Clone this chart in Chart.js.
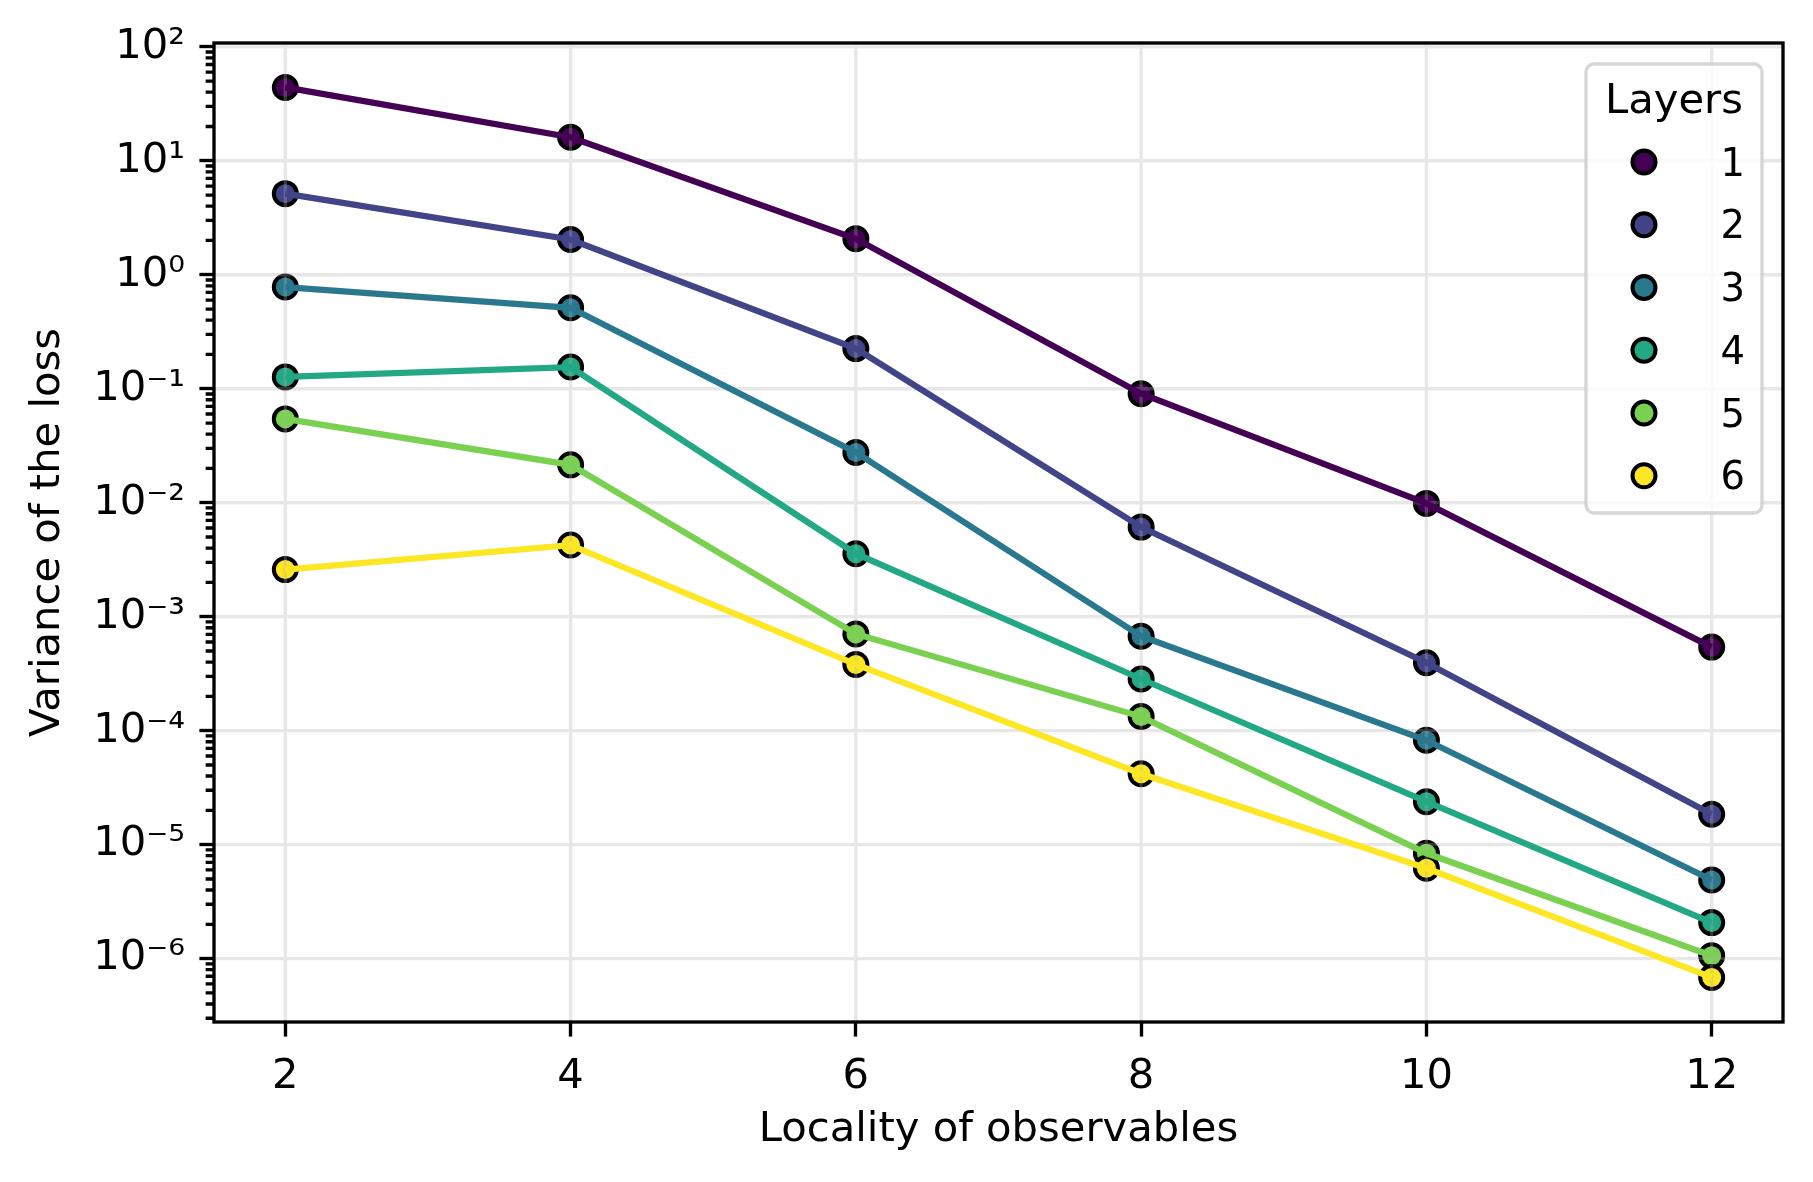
<!DOCTYPE html>
<html>
<head>
<meta charset="utf-8">
<script src="https://cdn.jsdelivr.net/npm/chart.js@4.4.1/dist/chart.umd.min.js"></script>
<style>
  html, body { margin: 0; padding: 0; background: #fff; }
  #wrap { width: 1813px; height: 1182px; position: relative; }
</style>
</head>
<body>
<div id="wrap"><canvas id="chart"></canvas></div>
<script>
// values (log y axis)
const locality = [2, 4, 6, 8, 10, 12];
const layerNames = ['1', '2', '3', '4', '5', '6'];
const layer1 = [44, 16.1, 2.07, 0.0904, 0.00986, 5.41e-4];
const layer2 = [5.15, 2.04, 0.225, 0.00611, 3.95e-4, 1.85e-5];
const layer3 = [0.78, 0.513, 0.0276, 6.73e-4, 8.24e-5, 4.9e-6];
const layer4 = [0.127, 0.155, 0.00357, 2.84e-4, 2.38e-5, 2.07e-6];
const layer5 = [0.0544, 0.0215, 7.06e-4, 1.33e-4, 8.4e-6, 1.06e-6];
const layer6 = [0.00259, 0.00425, 3.81e-4, 4.19e-5, 6.2e-6, 6.84e-7];
const xTicks = [2, 4, 6, 8, 10, 12];
const xRange = [1.5, 12.5];
const yRange = [2.78e-7, 108];

const layers = [layer1, layer2, layer3, layer4, layer5, layer6];
const viridis = ['#440154', '#414487', '#2a788e', '#22a884', '#7ad151', '#fde725'];

const FONT = "'DejaVu Sans', sans-serif";
const PT = 4.17; // px per point
Chart.defaults.font.family = FONT;
Chart.defaults.color = '#000';

const SUP = { '-': '\u207B', '0': '\u2070', '1': '\u00B9', '2': '\u00B2', '3': '\u00B3',
  '4': '\u2074', '5': '\u2075', '6': '\u2076', '7': '\u2077', '8': '\u2078', '9': '\u2079' };
const sup = (n) => String(n).split('').map(c => SUP[c]).join('');

function isDecade(v) {
  const l = Math.log10(v);
  return Math.abs(l - Math.round(l)) < 1e-9;
}

function points(values) {
  return values.map((v, i) => ({ x: locality[i], y: v }));
}

// scatter markers first (under grid), then lines on top, like matplotlib's zorders
const markerSets = layers.map((vals, i) => ({
  label: layerNames[i],
  data: points(vals),
  showLine: false,
  pointRadius: 11.5,
  pointBorderWidth: 4,
  pointBorderColor: '#000',
  pointBackgroundColor: viridis[i],
  order: 2 * layers.length - 1 - i
}));
const lineSets = layers.map((vals, i) => ({
  label: 'line ' + layerNames[i],
  data: points(vals),
  borderColor: viridis[i],
  borderWidth: 1.5 * PT,
  pointRadius: 0,
  tension: 0,
  order: layers.length - 1 - i
}));

const gridUnderLines = {
  id: 'gridUnderLines',
  beforeDatasetDraw(chart, args) {
    if (args.index !== layers.length) return;
    const { ctx, chartArea: a, scales: { x, y } } = chart;
    ctx.save();
    ctx.strokeStyle = 'rgba(176,176,176,0.3)';
    ctx.lineWidth = 0.8 * PT;
    ctx.beginPath();
    x.ticks.forEach(t => {
      const px = x.getPixelForValue(t.value);
      ctx.moveTo(px, a.top); ctx.lineTo(px, a.bottom);
    });
    y.ticks.filter(t => isDecade(t.value)).forEach(t => {
      const py = y.getPixelForValue(t.value);
      ctx.moveTo(a.left, py); ctx.lineTo(a.right, py);
    });
    ctx.stroke();
    ctx.restore();
  }
};

const frame = {
  id: 'frame',
  afterDatasetsDraw(chart) {
    const { ctx, chartArea: a, scales: { y } } = chart;
    ctx.save();
    ctx.strokeStyle = '#000';
    ctx.lineWidth = 0.8 * PT;
    ctx.beginPath();
    y.ticks.filter(t => !isDecade(t.value)).forEach(t => {
      const py = y.getPixelForValue(t.value);
      ctx.moveTo(a.left - 2 * PT, py); ctx.lineTo(a.left, py);
    });
    ctx.stroke();
    ctx.strokeRect(a.left, a.top, a.right - a.left, a.bottom - a.top);
    ctx.restore();
  }
};

const layersLegend = {
  id: 'layersLegend',
  afterDraw(chart) {
    const { ctx, chartArea: a } = chart;
    const w = 176, h = 449, r = 8;
    const right = a.right - 21, top = a.top + 21, left = right - w;
    ctx.save();
    ctx.beginPath();
    ctx.roundRect(left, top, w, h, r);
    ctx.fillStyle = 'rgba(255,255,255,0.8)';
    ctx.fill();
    ctx.strokeStyle = 'rgba(204,204,204,0.8)';
    ctx.lineWidth = 0.8 * PT;
    ctx.stroke();

    ctx.fillStyle = '#000';
    ctx.font = `41.7px ${FONT}`;
    ctx.textAlign = 'center';
    ctx.textBaseline = 'alphabetic';
    ctx.fillText('Layers', left + w / 2, top + 49);

    ctx.font = `38.5px ${FONT}`;
    ctx.textAlign = 'right';
    layerNames.forEach((name, i) => {
      const cy = top + 98 + i * 62.75;
      ctx.beginPath();
      ctx.arc(left + 58, cy, 11.5, 0, Math.PI * 2);
      ctx.fillStyle = viridis[i];
      ctx.fill();
      ctx.lineWidth = 4;
      ctx.strokeStyle = '#000';
      ctx.stroke();
      ctx.fillStyle = '#000';
      ctx.fillText(name, right - 17, cy + 13.5);
    });
    ctx.restore();
  }
};

new Chart(document.getElementById('chart'), {
  type: 'line',
  data: { datasets: [...markerSets, ...lineSets] },
  options: {
    responsive: true,
    maintainAspectRatio: false,
    animation: false,
    events: [],
    layout: { padding: { left: 0, right: 30, top: 43, bottom: 0 } },
    plugins: { legend: { display: false }, tooltip: { enabled: false } },
    scales: {
      x: {
        type: 'linear',
        min: xRange[0],
        max: xRange[1],
        bounds: 'data',
        afterBuildTicks: (scale) => { scale.ticks = xTicks.map(v => ({ value: v })); },
        afterFit: (scale) => { scale.height = 160; },
        border: { display: false },
        grid: { drawOnChartArea: false, drawTicks: true, tickLength: 3.5 * PT, tickWidth: 0.8 * PT, tickColor: '#000' },
        ticks: { padding: 16, autoSkip: false, maxRotation: 0, font: { size: 41.7 }, callback: (v) => String(v) },
        title: { display: true, text: 'Locality of observables', font: { size: 41.7 }, padding: { top: 0, bottom: 27 } }
      },
      y: {
        type: 'logarithmic',
        min: yRange[0],
        max: yRange[1],
        bounds: 'data',
        afterBuildTicks: (scale) => {
          const ticks = [];
          for (let e = Math.floor(Math.log10(scale.min)); e <= Math.ceil(Math.log10(scale.max)); e++) {
            for (let m = 1; m < 10; m++) {
              const v = m * Math.pow(10, e);
              if (v >= scale.min && v <= scale.max) ticks.push({ value: v });
            }
          }
          scale.ticks = ticks;
        },
        afterFit: (scale) => { scale.width = 214; },
        border: { display: false },
        grid: {
          drawOnChartArea: false,
          drawTicks: true,
          tickLength: 3.5 * PT,
          tickWidth: 0.8 * PT,
          tickColor: (c) => (c.tick && isDecade(c.tick.value)) ? '#000' : 'rgba(0,0,0,0)'
        },
        ticks: {
          padding: 14.5,
          autoSkip: false,
          font: { size: 41.7 },
          callback: (v) => isDecade(v) ? '10' + sup(Math.round(Math.log10(v))) : ''
        },
        title: { display: true, text: 'Variance of the loss', font: { size: 41.7 }, padding: { top: 23, bottom: 0 } }
      }
    }
  },
  plugins: [gridUnderLines, frame, layersLegend]
});
</script>
</body>
</html>
